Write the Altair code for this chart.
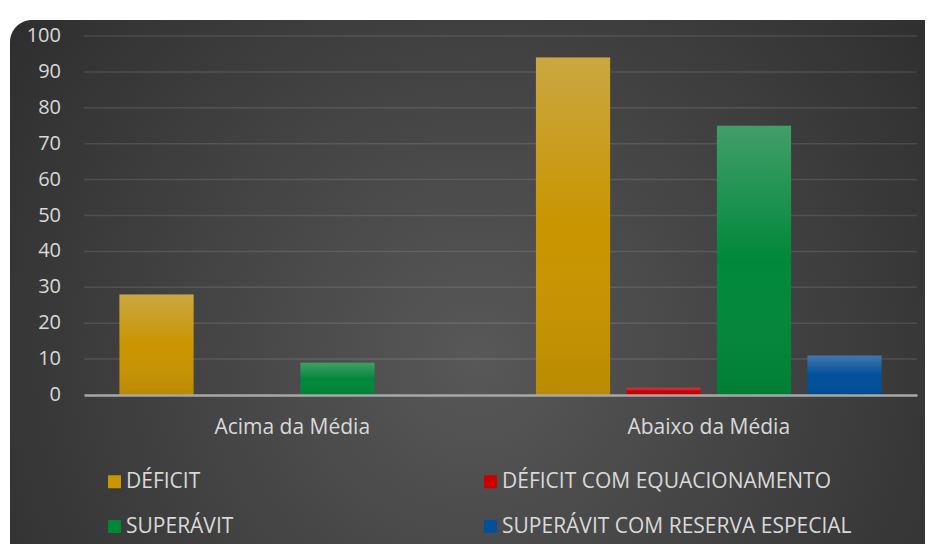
import altair as alt
import pandas as pd

categories = ["Acima da Média", "Abaixo da Média"]
series = ["DÉFICIT", "DÉFICIT COM EQUACIONAMENTO", "SUPERÁVIT", "SUPERÁVIT COM RESERVA ESPECIAL"]
values_acima = [28, 0, 9, 0]
values_abaixo = [94, 2, 75, 11]
series_colors = ["#c99500", "#c80000", "#00883a", "#00509a"]
y_ticks = [0, 10, 20, 30, 40, 50, 60, 70, 80, 90, 100]

rows = []
for cat, vals in zip(categories, [values_acima, values_abaixo]):
    for s, v in zip(series, vals):
        rows.append({"cat": cat, "serie": s, "valor": v})
df = pd.DataFrame(rows)
grid_df = pd.DataFrame({"valor": y_ticks[1:]})
tick_df = pd.DataFrame({"valor": y_ticks})

FONT = "Open Sans"
TXT = "#d9d9d9"
W, H = 833, 359

bg_gradient = {
    "gradient": "radial",
    "x1": 0.49, "y1": 0.56, "r1": 0,
    "x2": 0.49, "y2": 0.56, "r2": 0.72,
    "stops": [
        {"offset": 0, "color": "#585858"},
        {"offset": 1, "color": "#262626"},
    ],
}

background = alt.Chart(pd.DataFrame({"k": [0]})).mark_rect(
    fill=bg_gradient, cornerRadius=22
).encode(
    x=alt.value(-74), x2=alt.value(880), y=alt.value(-16), y2=alt.value(545)
)

y_scale = alt.Scale(domain=[0, 100], nice=False)
x_scale = alt.Scale(paddingInner=0.131, paddingOuter=0.0655)
off_scale = alt.Scale(domain=series, paddingInner=0.18, paddingOuter=0.09)

x_axis = alt.Axis(
    title=None, labelAngle=0, labelFont=FONT, labelFontSize=21, labelColor=TXT,
    labelPadding=21, ticks=False, domainColor="#a8a8a8", domainWidth=2.5,
    grid=False, zindex=1,
)

grid = alt.Chart(grid_df).mark_rule(color="#ffffff", opacity=0.11, strokeWidth=1.5).encode(
    y=alt.Y("valor:Q", scale=y_scale, axis=None),
    x=alt.value(0), x2=alt.value(W),
)

y_labels = alt.Chart(tick_df).mark_text(
    align="right", baseline="middle", font=FONT, fontSize=20, color=TXT, dx=-23
).encode(
    y=alt.Y("valor:Q", scale=y_scale, axis=None),
    x=alt.value(0),
    text=alt.Text("valor:Q"),
)

bars = alt.Chart(df).mark_bar().encode(
    x=alt.X("cat:N", sort=categories, scale=x_scale, axis=x_axis),
    xOffset=alt.XOffset("serie:N", sort=series, scale=off_scale),
    y=alt.Y("valor:Q", scale=y_scale, axis=None),
    color=alt.Color(
        "serie:N",
        sort=series,
        scale=alt.Scale(domain=series, range=series_colors),
        legend=alt.Legend(
            title=None, orient="none", legendX=20, legendY=435, columns=2,
            direction="horizontal",
            columnPadding=246, rowPadding=23, symbolType="square", symbolSize=169,
            symbolStrokeWidth=0, labelFont=FONT, labelFontSize=21, labelColor=TXT,
            labelOffset=1, labelLimit=500,
        ),
    ),
)

overlay_gradient = {
    "gradient": "linear",
    "x1": 0, "y1": 0, "x2": 0, "y2": 1,
    "stops": [
        {"offset": 0, "color": "rgba(205,205,205,0.32)"},
        {"offset": 0.5, "color": "rgba(205,205,205,0)"},
        {"offset": 1, "color": "rgba(0,0,0,0.08)"},
    ],
}

overlay = alt.Chart(df).mark_bar(fill=overlay_gradient).encode(
    x=alt.X("cat:N", sort=categories, scale=x_scale, axis=x_axis),
    xOffset=alt.XOffset("serie:N", sort=series, scale=off_scale),
    y=alt.Y("valor:Q", scale=y_scale, axis=None),
)

chart = alt.layer(background, grid, y_labels, bars, overlay).properties(
    width=W,
    height=H,
    padding={"left": 76, "top": 28, "right": 8, "bottom": 149},
    autosize=alt.AutoSizeParams(type="none"),
    background="white",
).configure_view(stroke=None)

chart.save("out.html", embed_options={"renderer": "svg", "actions": False})
